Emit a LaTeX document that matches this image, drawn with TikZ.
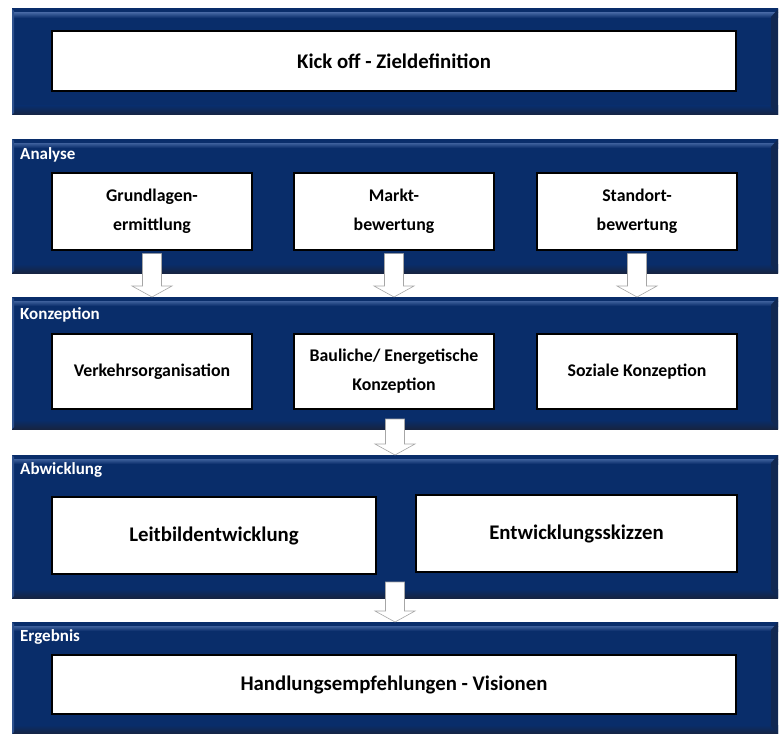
\documentclass[tikz,border=0pt]{standalone}
\usepackage{fontspec}
\setmainfont{Carlito}
\usepackage{tikz}
\definecolor{panelblue}{RGB}{9,45,106}
\definecolor{panellight}{RGB}{62,96,156}
\definecolor{paneldark}{RGB}{22,36,66}
\usetikzlibrary{calc}

\begin{document}
\begin{tikzpicture}[x=1pt, y=-1pt,
    panel/.style={fill=panelblue, anchor=north west, inner sep=0pt, outer sep=0pt, minimum width=766,
      path picture={
        % Kanten (Bevel)
        \shade[top color=panelblue, bottom color=panellight] (path picture bounding box.north west) rectangle ([yshift=-4pt]path picture bounding box.north east);
        \shade[top color=panellight, bottom color=panelblue] ([yshift=-4pt]path picture bounding box.north west) rectangle ([yshift=-9pt]path picture bounding box.north east);
        \shade[top color=panelblue, bottom color=paneldark] ([yshift=9pt]path picture bounding box.south west) rectangle (path picture bounding box.south east);
        \fill[paneldark!60!panelblue] (path picture bounding box.north east) -- ([xshift=-7pt,yshift=-8pt]path picture bounding box.north east)
          -- ([xshift=-7pt,yshift=8pt]path picture bounding box.south east) -- (path picture bounding box.south east) -- cycle;
        \fill[panellight!70!panelblue] (path picture bounding box.north west) -- ([xshift=2pt,yshift=-2pt]path picture bounding box.north west)
          -- ([xshift=2pt,yshift=2pt]path picture bounding box.south west) -- (path picture bounding box.south west) -- cycle;
      }},
    box/.style={draw=black, line width=1.3pt, fill=white, align=center, inner sep=2pt,
      font=\bfseries\fontsize{17.8}{29}\selectfont},
    bigbox/.style={box, font=\bfseries\fontsize{20.8}{24}\selectfont},
    header/.style={anchor=west, text=white, inner sep=0pt, font=\bfseries\fontsize{17}{20}\selectfont},
    blockarr/.style={draw=gray!70, fill=white, line width=0.6pt,
      to path={let \p1=(\tikztostart), \p2=(\tikztotarget) in
        (\x1-9.5pt,\y1) -- (\x1+9.5pt,\y1) -- (\x1+9.5pt,\y2+11pt) -- (\x1+20pt,\y2+11pt)
        -- (\x1,\y2) -- (\x1-20pt,\y2+11pt) -- (\x1-9.5pt,\y2+11pt) -- cycle}}]
  \useasboundingbox (0,0) rectangle (781,733);

  % Felder
  \node[panel, minimum height=106] (kickp) at (12,9) {};
  \node[panel, minimum height=134] (anap) at (12,139) {};
  \node[panel, minimum height=132] (konzp) at (12,297) {};
  \node[panel, minimum height=143] (abwp) at (12,455) {};
  \node[panel, minimum height=112] (ergp) at (12,622) {};

  % Ueberschriften
  \node[header] (anah) at ([xshift=8pt,yshift=-16pt]anap.north west) {Analyse};
  \node[header] (konzh) at ([xshift=8pt,yshift=-18pt]konzp.north west) {Konzeption};
  \node[header] (abwh) at ([xshift=8pt,yshift=-15pt]abwp.north west) {Abwicklung};
  \node[header] (ergh) at ([xshift=8pt,yshift=-15pt]ergp.north west) {Ergebnis};

  % Kaesten
  \node[bigbox, minimum width=684, minimum height=60] (kick) at (394,61) {Kick off - Zieldefinition};
  \node[box, minimum width=200, minimum height=77] (grund) at (152,211.5) {Grundlagen-\\ermittlung};
  \node[box, minimum width=200, minimum height=77] (markt) at (394,211.5) {Markt-\\bewertung};
  \node[box, minimum width=200, minimum height=77] (stand) at (637,211.5) {Standort-\\bewertung};
  \node[box, minimum width=200, minimum height=75] (verk) at (152,371.5) {Verkehrsorganisation};
  \node[box, minimum width=200, minimum height=75] (baul) at (394,371.5) {Bauliche/ Energetische\\Konzeption};
  \node[box, minimum width=200, minimum height=75] (soz) at (637,371.5) {Soziale Konzeption};
  \node[bigbox, minimum width=324, minimum height=77] (leit) at (214,535.5) {Leitbildentwicklung};
  \node[bigbox, minimum width=321, minimum height=77] (entw) at (576.5,533.5) {Entwicklungsskizzen};
  \node[bigbox, minimum width=684, minimum height=59] (hand) at (394,684.5) {Handlungsempfehlungen - Visionen};

  % Pfeile
  \foreach \b in {grund,markt,stand}
    \draw[blockarr] ([yshift=-3pt]\b.south) to (\b.south |- konzp.north);
  \draw[blockarr] ([yshift=10pt]konzp.south) to (abwp.north);
  \draw[blockarr] ([yshift=16pt]abwp.south) to (ergp.north);
\end{tikzpicture}
\end{document}
